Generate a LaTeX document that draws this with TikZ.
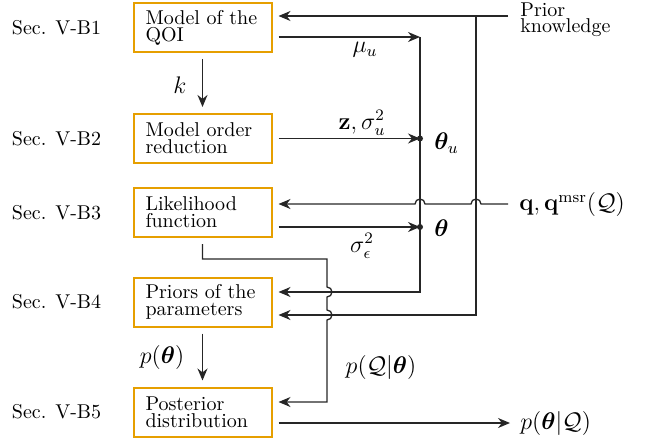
\documentclass[tikz,border=0pt]{standalone}
\usepackage{amsmath}
\usepackage{bm}
\usetikzlibrary{arrows.meta,positioning}
\definecolor{boxorange}{HTML}{E69F00}

\begin{document}
\begin{tikzpicture}[x=0.5pt,y=0.5pt,
	block/.style={draw=boxorange, line width=1pt, text width=57pt, inner xsep=6pt,
		inner ysep=2pt, minimum height=24.5pt, outer sep=3.5pt, align=left,
		font=\fontsize{10pt}{8.6pt}\selectfont},
	seclabel/.style={inner sep=0pt},
	lbl/.style={inner sep=0pt, font=\large},
	conn/.style={line width=0.65pt, draw=black!85},
	arr/.style={conn, -{Stealth[length=6pt,width=5pt]}}]
	\useasboundingbox (0,0) rectangle (652,-443);

	% Bloecke
	\node[block] (qoi) at (202.5,-27.5) {Model of the\\QOI};
	\node[block] (mor) at (202.5,-138.5) {Model order\\reduction};
	\node[block] (lik) at (202.5,-212.5) {Likelihood\\function};
	\node[block] (pri) at (202.5,-302) {Priors of the\\parameters};
	\node[block] (post) at (202.5,-412) {Posterior\\distribution};

	% Abschnitte links
	\node[seclabel, left=12.5pt of qoi] (secb1) {Sec. V-B1};
	\node[seclabel, left=12.5pt of mor] (secb2) {Sec. V-B2};
	\node[seclabel, left=12.5pt of lik] (secb3) {Sec. V-B3};
	\node[seclabel, left=12.5pt of pri] (secb4) {Sec. V-B4};
	\node[seclabel, left=12.5pt of post] (secb5) {Sec. V-B5};

	% Knotenpunkte
	\coordinate (pk) at (508,-16);
	\coordinate (pkdown) at (476,-16);
	\coordinate (jmu) at (420,-37);
	\coordinate (thu) at (420,-138.5);
	\coordinate (th) at (420,-227);
	\coordinate (qin) at (508,-204);
	\coordinate (prA) at (420,-292);
	\coordinate (prB) at (476,-315);
	\coordinate (lkA) at (327,-259);
	\coordinate (lkB) at (327,-402);
	\coordinate (pout) at (510,-423);

	% Texte rechts
	\node[lbl, anchor=west, align=left, font=\fontsize{10pt}{8pt}\selectfont] (prior) at (520,-20) {Prior\\knowledge};
	\node[lbl, anchor=west] (meas) at (519,-205) {$\mathbf{q},\mathbf{q}^{\mathrm{msr}}(\mathcal{Q})$};
	\node[lbl, anchor=west] (postout) at (520,-423) {$p(\bm{\theta}|\mathcal{Q})$};

	% Beschriftungen
	\node[lbl] (mu) at (365,-50) {$\mu_u$};
	\node[lbl] (zs) at (362,-123) {$\mathbf{z},\sigma_u^2$};
	\node[lbl, anchor=west] (thul) at (434,-143) {$\bm{\theta}_u$};
	\node[lbl, anchor=west] (thl) at (434,-228) {$\bm{\theta}$};
	\node[lbl] (se) at (362,-246) {$\sigma_\epsilon^2$};
	\node[lbl] (k) at (180,-85) {$k$};
	\node[lbl] (pth) at (162,-357) {$p(\bm{\theta})$};
	\node[lbl] (pqth) at (381,-367) {$p(\mathcal{Q}|\bm{\theta})$};

	% Pfeile
	\draw[arr] (qoi) -- (mor);
	\draw[arr] (pri) -- (post);
	\draw[arr] (pk) -- (pk -| qoi.east);
	\draw[arr] (pkdown) -- (prB) -- (prB -| pri.east);
	\draw[arr] (qoi.east |- jmu) -- (jmu);
	\draw[arr] (jmu) -- (prA) -- (prA -| pri.east);
	\draw[arr] (mor.east |- thu) -- (thu);
	\draw[arr] (lik.east |- th) -- (th);
	\fill[black!85] (thu) circle[radius=1.5pt];
	\fill[black!85] (th) circle[radius=1.5pt];
	\draw[arr] (qin) -- (481,-204) arc[start angle=0, end angle=180, radius=2.5pt]
		-- (425,-204) arc[start angle=0, end angle=180, radius=2.5pt] -- (qin -| lik.east);
	\draw[arr] (lik.south) |- (lkA) -- (327,-287) arc[start angle=90, end angle=-90, radius=2.5pt]
		-- (327,-310) arc[start angle=90, end angle=-90, radius=2.5pt] -- (lkB) -- (lkB -| post.east);
	\draw[arr] (post.east |- pout) -- (pout);
\end{tikzpicture}
\end{document}
